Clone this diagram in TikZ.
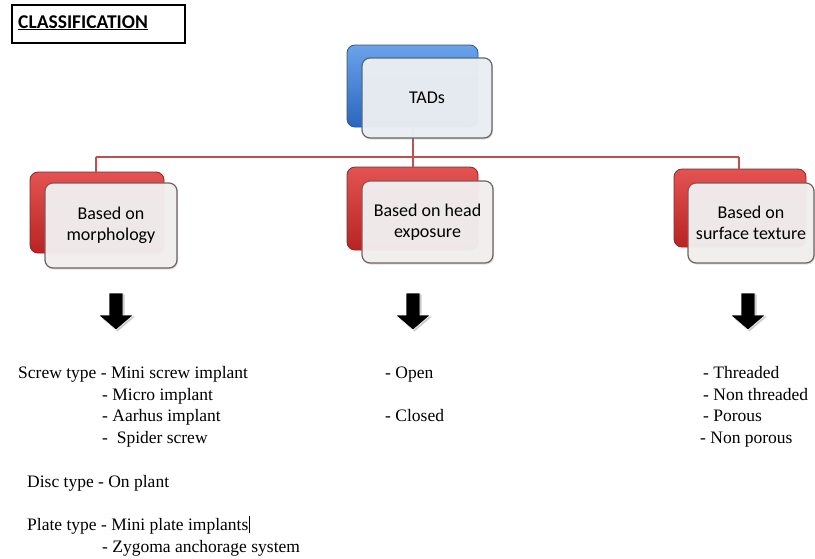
\documentclass[tikz,border=0pt]{standalone}
\usepackage{fontspec}
\setmainfont{Liberation Serif}
\newfontfamily\boxfont{Carlito}
\usetikzlibrary{shadows}
\definecolor{bluetop}{HTML}{6AA3EA}
\definecolor{bluebot}{HTML}{2B66BE}
\definecolor{blueedge}{HTML}{2456A0}
\definecolor{redtop}{HTML}{E45252}
\definecolor{redbot}{HTML}{B82424}
\definecolor{rededge}{HTML}{9A2020}
\definecolor{linered}{HTML}{C0504D}
\definecolor{frontfill}{HTML}{F2EFEF}
\definecolor{frontblue}{HTML}{EBEFF3}
\definecolor{frontedge}{HTML}{6E6262}
\begin{document}
\begin{tikzpicture}[x=1pt,y=-1pt,
  backblue/.style={rounded corners=8pt, top color=bluetop, bottom color=bluebot, draw=blueedge, line width=0.8pt, inner sep=0pt},
  backred/.style={rounded corners=8pt, top color=redtop, bottom color=redbot, draw=rededge, line width=0.8pt, inner sep=0pt},
  frontbox/.style={rounded corners=8pt, fill=frontfill, fill opacity=0.96, text opacity=1, draw=frontedge, line width=1.2pt,
    drop shadow={opacity=0.25, shadow xshift=1pt, shadow yshift=-1.5pt}, align=center, inner sep=0pt,
    font=\boxfont\fontsize{18}{21}\selectfont},
  conn/.style={draw=linered, line width=1.3pt},
  txt/.style={anchor=base west, inner sep=0pt, font=\fontsize{17.5}{21}\selectfont},
  downarr/.pic={
    \fill[gray!40] (-5.5,1.5) -- (8.5,1.5) -- (8.5,23.5) -- (19,23.5) -- (1.5,38.5) -- (-16,23.5) -- (-5.5,23.5) -- cycle;
    \fill[black, draw=white, line width=0.6pt] (-7,0) -- (7,0) -- (7,22) -- (17.5,22) -- (0,37) -- (-17.5,22) -- (-7,22) -- cycle;
  }]
\useasboundingbox (0,0) rectangle (815,558);
\fill[white] (0,0) rectangle (815,558);

% title
\node[draw=black, line width=1.6pt, minimum width=173pt, minimum height=38pt, inner sep=0pt] (title) at (98.5,24) {};
\node[anchor=base west, inner sep=0pt, font=\boxfont\bfseries\fontsize{19.5}{21}\selectfont] (titletext) at (18,28) {\underline{CLASSIFICATION}};

% junction coordinates
\coordinate (j0) at (413,157);
\coordinate (jl) at (96,157);
\coordinate (jr) at (739,157);

% back boxes
\node[backblue, minimum width=131pt, minimum height=82pt] (tadsb) at (412.5,86) {};
\node[backred, minimum width=134pt, minimum height=81pt] (lb) at (97,212.5) {};
\node[backred, minimum width=131pt, minimum height=83pt] (mb) at (412.5,208.5) {};
\node[backred, minimum width=132pt, minimum height=78pt] (rb) at (740,208) {};

% connectors
\draw[conn] (tadsb.south -| j0) -- (j0);
\draw[conn] (jl) -- (jr);
\draw[conn] (jl) -- (lb.north -| jl);
\draw[conn] (j0) -- (mb.north -| j0);
\draw[conn] (jr) -- (rb.north -| jr);

% front boxes
\node[frontbox, fill=frontblue, draw=gray!80!black, minimum width=130pt, minimum height=80pt] (tads) at (427,98) {TADs};
\node[frontbox, minimum width=132pt, minimum height=85pt] (lf) at (111,225.5) {Based on\\morphology};
\node[frontbox, minimum width=131pt, minimum height=82pt] (mf) at (427.5,222) {Based on head\\exposure};
\node[frontbox, minimum width=126pt, minimum height=80pt] (rf) at (751,223) {Based on\\surface texture};

% arrows
\pic at (116,293) {downarr};
\pic at (413,293) {downarr};
\pic at (748,293) {downarr};

% left column
\node[txt] (s1) at (18,378) {Screw type - Mini screw implant};
\node[txt] (s2) at (102,400) {- Micro implant};
\node[txt] (s3) at (102,421) {- Aarhus implant};
\node[txt] (s4) at (102,443) {-\ \ Spider screw};
\node[txt] (d1) at (27,487) {Disc type - On plant};
\node[txt] (p1) at (27,530) {Plate type - Mini plate implants\hspace{0.5pt}\rule[-3pt]{0.6pt}{17pt}};
\node[txt] (p2) at (102,552) {- Zygoma anchorage system};

% middle column
\node[txt] (m1) at (385,378) {- Open};
\node[txt] (m2) at (385,421) {- Closed};

% right column
\node[txt] (r1) at (703,378) {- Threaded};
\node[txt] (r2) at (703,400) {- Non threaded};
\node[txt] (r3) at (703,421) {- Porous};
\node[txt] (r4) at (700,443) {- Non porous};
\end{tikzpicture}
\end{document}
